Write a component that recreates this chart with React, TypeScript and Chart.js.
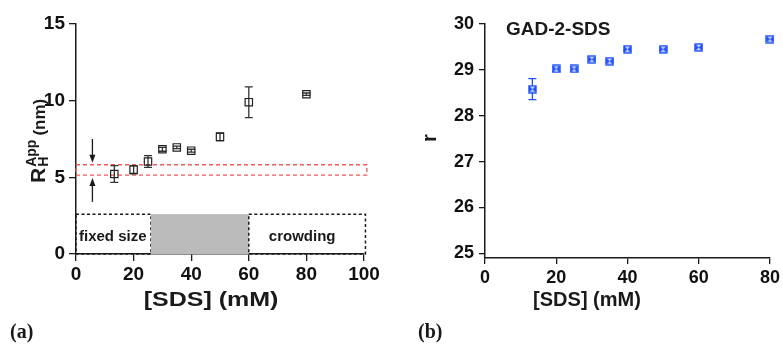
import { useEffect, useRef } from 'react';
import { Chart, registerables } from 'chart.js';
Chart.register(...registerables);

// ---------- Panel (a) data ----------
const sdsA = [13.3, 20, 25, 30, 35, 40, 50, 60, 80];
const rhA = [5.22, 5.5, 6.03, 6.83, 6.95, 6.74, 7.64, 9.9, 10.42];
const rhErr = [0.55, 0.27, 0.38, 0.13, 0.08, 0.09, 0.25, 1.0, 0.08];
const xTicksA = [0, 20, 40, 60, 80, 100];
const yTicksA = [0, 5, 10, 15];
const bandY = [5.15, 5.82];
const bandX = [0, 101];
const regionEdges = [0, 26, 60, 100.5];
const regionTop = 2.6;
const regionLabels = ['fixed size', '', 'crowding'];
const arrowX = 5.7;
const arrowDown = [7.5, 5.95];
const arrowUp = [3.4, 4.95];

// ---------- Panel (b) data ----------
const sdsB = [13.3, 20, 25, 30, 35, 40, 50, 60, 80];
const rB = [28.58, 29.02, 29.02, 29.23, 29.19, 29.45, 29.45, 29.49, 29.67];
const rErr = [0.23, 0.05, 0.05, 0.03, 0.03, 0.03, 0.03, 0.04, 0.02];
const xTicksB = [0, 20, 40, 60, 80];
const yTicksB = [25, 26, 27, 28, 29, 30];

const SANS = '"Liberation Sans", Arial, sans-serif';
const SERIF = '"Liberation Serif", "Times New Roman", serif';
const BLUE = '#1e50ff';
const INK = '#1a1a1a';

function makeBowtie(color: string) {
  const c = document.createElement('canvas');
  c.width = 9; c.height = 9;
  const g = c.getContext('2d')!;
  g.fillStyle = '#c9d6ff';
  g.fillRect(1, 1, 7, 7);
  g.fillStyle = color;
  g.beginPath(); g.moveTo(1, 1); g.lineTo(4.5, 4.5); g.lineTo(1, 8); g.closePath(); g.fill();
  g.beginPath(); g.moveTo(8, 1); g.lineTo(4.5, 4.5); g.lineTo(8, 8); g.closePath(); g.fill();
  g.strokeStyle = color; g.lineWidth = 1.4;
  g.strokeRect(1, 1, 7, 7);
  return c;
}

function errorBars(chart: any, xs: number[], ys: number[], es: number[], color: string, cap: number) {
  const { ctx, scales } = chart;
  ctx.save();
  ctx.strokeStyle = color;
  ctx.lineWidth = 1.3;
  xs.forEach((x, i) => {
    const px = scales.x.getPixelForValue(x);
    const top = scales.y.getPixelForValue(ys[i] + es[i]);
    const bot = scales.y.getPixelForValue(ys[i] - es[i]);
    ctx.beginPath();
    ctx.moveTo(px, top); ctx.lineTo(px, bot);
    ctx.moveTo(px - cap, top); ctx.lineTo(px + cap, top);
    ctx.moveTo(px - cap, bot); ctx.lineTo(px + cap, bot);
    ctx.stroke();
  });
  ctx.restore();
}

function arrow(ctx: any, x: number, y0: number, y1: number) {
  const dir = y1 > y0 ? 1 : -1;
  ctx.beginPath();
  ctx.moveTo(x, y0); ctx.lineTo(x, y1 - dir * 6);
  ctx.stroke();
  ctx.beginPath();
  ctx.moveTo(x, y1); ctx.lineTo(x - 3, y1 - dir * 8); ctx.lineTo(x + 3, y1 - dir * 8); ctx.closePath();
  ctx.fill();
}

const pluginA = {
  id: 'panelA',
  beforeDatasetsDraw(chart: any) {
    const { ctx, scales } = chart;
    const X = (v: number) => scales.x.getPixelForValue(v);
    const Y = (v: number) => scales.y.getPixelForValue(v);
    ctx.save();
    for (let i = 0; i < regionEdges.length - 1; i++) {
      const x0 = X(regionEdges[i]), x1 = X(regionEdges[i + 1]);
      const y0 = Y(regionTop), y1 = Y(0);
      if (regionLabels[i] === '') {
        ctx.fillStyle = '#bbbbbb';
        ctx.fillRect(x0, y0, x1 - x0, y1 - y0);
      } else {
        ctx.setLineDash([3, 2.5]);
        ctx.strokeStyle = INK;
        ctx.lineWidth = 1.5;
        ctx.strokeRect(x0, y0, x1 - x0, y1 - y0);
        ctx.setLineDash([]);
        ctx.fillStyle = INK;
        ctx.font = `bold 15px ${SANS}`;
        ctx.textBaseline = 'middle';
        const ty = (y0 + y1) / 2 + 3;
        if (i === 0) {
          ctx.textAlign = 'left';
          ctx.fillText(regionLabels[i], x0 + 3, ty);
        } else {
          ctx.textAlign = 'center';
          ctx.fillText(regionLabels[i], (x0 + x1) / 2 - 5, ty);
        }
      }
    }
    ctx.setLineDash([4, 3]);
    ctx.strokeStyle = '#f05a5a';
    ctx.lineWidth = 1.3;
    ctx.strokeRect(X(bandX[0]), Y(bandY[1]), X(bandX[1]) - X(bandX[0]), Y(bandY[0]) - Y(bandY[1]));
    ctx.setLineDash([]);
    ctx.strokeStyle = INK; ctx.fillStyle = INK; ctx.lineWidth = 1.3;
    arrow(ctx, X(arrowX), Y(arrowDown[0]), Y(arrowDown[1]));
    arrow(ctx, X(arrowX), Y(arrowUp[0]), Y(arrowUp[1]));
    ctx.restore();
    errorBars(chart, sdsA, rhA, rhErr, '#333', 4);
  },
  afterDraw(chart: any) {
    const { ctx } = chart;
    ctx.save();
    ctx.fillStyle = INK;
    ctx.save();
    ctx.translate(211, 300);
    ctx.scale(1.25, 1);
    ctx.font = `bold 20px ${SANS}`;
    ctx.textAlign = 'center';
    ctx.textBaseline = 'middle';
    ctx.fillText('[SDS] (mM)', 0, 0);
    ctx.restore();
    ctx.save();
    ctx.translate(45, 183);
    ctx.rotate(-Math.PI / 2);
    ctx.textAlign = 'left';
    ctx.textBaseline = 'alphabetic';
    ctx.font = `bold 21px ${SANS}`;
    ctx.fillText('R', 0, 0);
    const rw = ctx.measureText('R').width;
    ctx.font = `bold 14px ${SANS}`;
    ctx.fillText('H', rw + 1, 3);
    ctx.fillText('App', rw + 1, -9);
    const hw = Math.max(ctx.measureText('H').width, ctx.measureText('App').width);
    ctx.font = `bold 17px ${SANS}`;
    ctx.fillText('(nm)', rw + hw + 5, 0);
    ctx.restore();
    ctx.font = `bold 20px ${SERIF}`;
    ctx.textAlign = 'left';
    ctx.textBaseline = 'middle';
    ctx.fillText('(a)', 10, 333);
    ctx.restore();
  },
};

const pluginB = {
  id: 'panelB',
  beforeDatasetsDraw(chart: any) {
    errorBars(chart, sdsB, rB, rErr, BLUE, 4);
  },
  afterDraw(chart: any) {
    const { ctx } = chart;
    ctx.save();
    ctx.fillStyle = INK;
    ctx.font = `bold 20px ${SANS}`;
    ctx.textAlign = 'center';
    ctx.textBaseline = 'middle';
    ctx.fillText('[SDS] (mM)', 195, 300);
    ctx.save();
    ctx.translate(38, 138);
    ctx.rotate(-Math.PI / 2);
    ctx.fillText('r', 0, 0);
    ctx.restore();
    ctx.font = `bold 19px ${SANS}`;
    ctx.textAlign = 'left';
    ctx.fillText('GAD-2-SDS', 114, 30);
    ctx.font = `bold 20px ${SERIF}`;
    ctx.fillText('(b)', 26, 333);
    ctx.restore();
  },
};

function axis(min: number, max: number, ticks: number[], size: number, fontSize: number, isX: boolean, pad: number, tickLen: number) {
  return {
    type: 'linear' as const,
    min, max,
    afterBuildTicks: (s: any) => { s.ticks = ticks.map((v) => ({ value: v })); },
    afterFit: (s: any) => { if (isX) s.height = size; else s.width = size; },
    grid: { display: true, drawOnChartArea: false, drawTicks: true, tickLength: tickLen, color: INK, lineWidth: 1.3 },
    border: { display: true, color: INK, width: 1.5 },
    ticks: { color: '#111', padding: pad, autoSkip: false, maxRotation: 0, font: { family: SANS, size: fontSize, weight: 'bold' as const } },
    title: { display: false },
  };
}

export default function App() {
  const refA = useRef<HTMLCanvasElement>(null);
  const refB = useRef<HTMLCanvasElement>(null);
  useEffect(() => {
    const chartA = new Chart(refA.current!, {
      type: 'scatter',
      data: {
        datasets: [{
          data: sdsA.map((x, i) => ({ x, y: rhA[i] })),
          pointStyle: 'rect',
          pointRadius: 5.2,
          borderColor: '#222',
          backgroundColor: 'rgba(0,0,0,0)',
          borderWidth: 1.2,
          clip: false,
        }],
      },
      options: {
        responsive: false,
        animation: false,
        layout: { padding: { top: 24, right: 28, left: 0, bottom: 0 } },
        plugins: { legend: { display: false }, tooltip: { enabled: false } },
        scales: {
          x: axis(0, 100, xTicksA, 90, 19, true, 2, 7),
          y: axis(0, 15, yTicksA, 76, 19, false, 4, 7),
        },
      },
      plugins: [pluginA],
    });
    const bow = makeBowtie(BLUE);
    const chartB = new Chart(refB.current!, {
      type: 'scatter',
      data: {
        datasets: [{
          data: sdsB.map((x, i) => ({ x, y: rB[i] })),
          pointStyle: bow as any,
          pointRadius: 4.5,
          clip: false,
        }],
      },
      options: {
        responsive: false,
        animation: false,
        layout: { padding: { top: 24, right: 10, left: 0, bottom: 0 } },
        plugins: { legend: { display: false }, tooltip: { enabled: false } },
        scales: {
          x: axis(0, 80, xTicksB, 86, 18, true, 3, 6),
          y: axis(24.9, 30, yTicksB, 93, 18, false, 5, 6),
        },
      },
      plugins: [pluginB],
    });
    return () => { chartA.destroy(); chartB.destroy(); };
  }, []);
  return (
    <div style={{ position: 'fixed', left: 0, top: 0, width: 783, height: 344, background: '#fff' }}>
      <canvas ref={refA} width={392} height={344} style={{ position: 'absolute', left: 0, top: 0 }} />
      <canvas ref={refB} width={391} height={344} style={{ position: 'absolute', left: 392, top: 0 }} />
    </div>
  );
}
